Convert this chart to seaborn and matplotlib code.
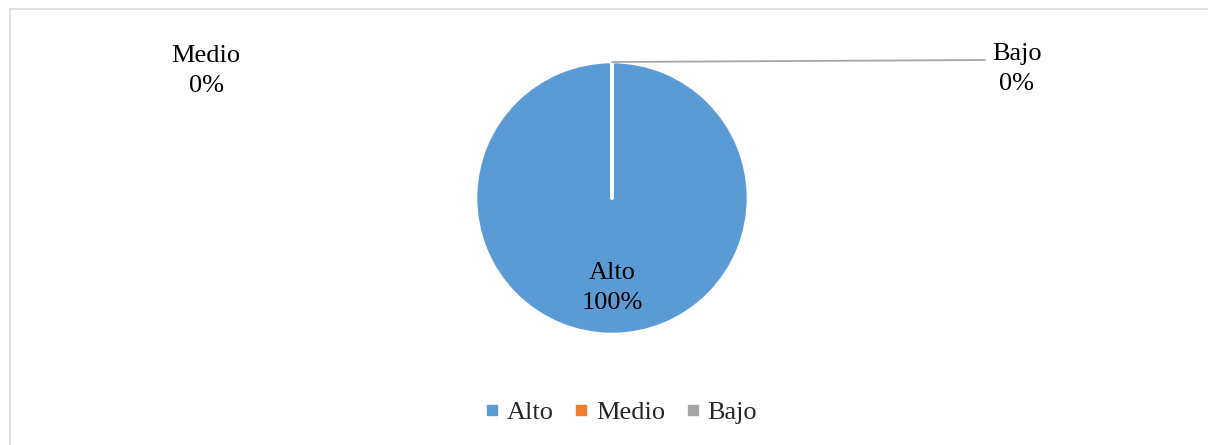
import matplotlib
matplotlib.use("Agg")
import matplotlib.pyplot as plt
from matplotlib.patches import Rectangle
from matplotlib.lines import Line2D
import seaborn as sns

categories = ["Alto", "Medio", "Bajo"]
values = [100, 0, 0]
colors = ["#5B9BD5", "#ED7D31", "#A5A5A5"]

sns.set_theme(style="white")
plt.rcParams["font.family"] = ["Liberation Serif", "DejaVu Serif"]

W, H = 1208, 445
fig = plt.figure(figsize=(W / 100, H / 100), dpi=100)
ax = fig.add_axes([0, 0, 1, 1])

# outer chart frame
ax.add_patch(Rectangle((10, -5), W, H - 9 + 5, fill=False, edgecolor="#D9D9D9", linewidth=1.2))

cx, cy, r = 612, H - 198, 136.5
wedges, _ = ax.pie(values, colors=sns.color_palette(colors), startangle=90, counterclock=False,
                   center=(cx, cy), radius=r, frame=True,
                   wedgeprops=dict(edgecolor="white", linewidth=2.6, capstyle="round"))
ax.set_xlim(0, W)
ax.set_ylim(0, H)
ax.set_aspect("equal")
ax.axis("off")

total = sum(values)
pct = [f"{v / total * 100:.0f}%" for v in values]
fs = 19
ls = 1.45
ax.text(cx, H - 288, f"{categories[0]}\n{pct[0]}", ha="center", va="center", fontsize=fs,
        color="#000000", linespacing=ls)
ax.text(206, H - 71, f"{categories[1]}\n{pct[1]}", ha="center", va="center", fontsize=fs,
        color="#000000", linespacing=ls)
ax.text(1017, H - 69, f"{categories[2]}\n{pct[2]}", ha="center", va="center", fontsize=fs,
        color="#000000", linespacing=ls)
# leader line to the Bajo label
ax.plot([cx, 985], [H - 62, H - 60], color="#A6A6A6", linewidth=1.3)

handles = [Line2D([0], [0], marker="s", linestyle="none", markersize=6.5,
                  markerfacecolor=c, markeredgecolor=c) for c in colors]
fig.legend(handles, categories, loc="center", bbox_to_anchor=(618 / W, 1 - 412 / H), ncol=3,
           frameon=False, fontsize=fs, handletextpad=0.05, columnspacing=0.55, handlelength=1.0)

fig.savefig("out.png", dpi=100, facecolor="white")
